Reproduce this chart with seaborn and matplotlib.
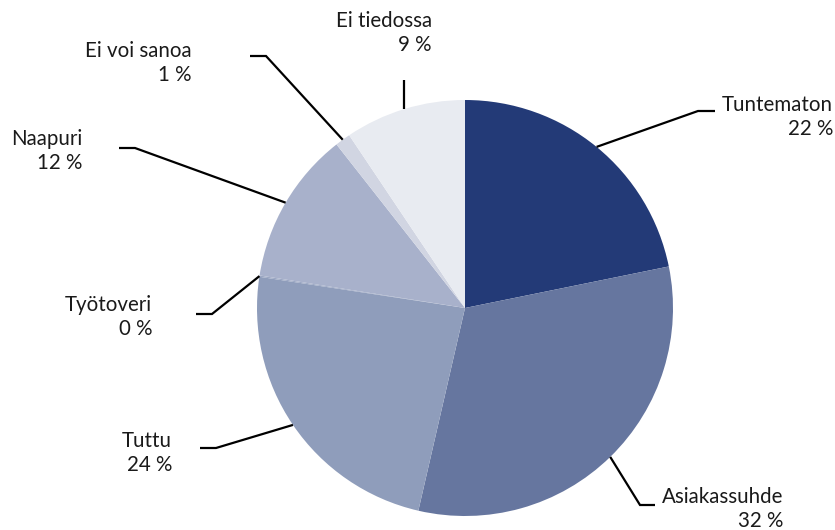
import numpy as np
import matplotlib
matplotlib.use("Agg")
import matplotlib.pyplot as plt
import seaborn as sns

sns.set_theme(style="white")
plt.rcParams['font.family'] = ['Lato', 'DejaVu Sans']

# --- data ---
categories = ["Tuntematon", "Asiakassuhde", "Tuttu", "Työtoveri", "Naapuri", "Ei voi sanoa", "Ei tiedossa"]
shares = [21.8, 31.8, 23.8, 0.1, 11.9, 1.2, 9.4]
pct_labels = ["22 %", "32 %", "24 %", "0 %", "12 %", "1 %", "9 %"]
colors = ["#233a77", "#66769f", "#8f9dbb", "#9ba7c3", "#a8b1cb", "#d1d5e2", "#e8ebf1"]

W, H = 835, 530
CX, CY, R = 465, 308, 208  # pie centre / radius in pixels (layout)

fig = plt.figure(figsize=(W / 100, H / 100), dpi=100)
ax = fig.add_axes([0, 0, 1, 1])

wedges, _ = ax.pie(shares, colors=colors, startangle=90, counterclock=False,
                   radius=1, center=(0, 0),
                   wedgeprops=dict(linewidth=0))

ax.set_xlim(-CX / R, (W - CX) / R)
ax.set_ylim(-(H - CY) / R, CY / R)
ax.set_aspect("equal", adjustable="box")
ax.axis("off")

def px(x, y):
    return ((x - CX) / R, (CY - y) / R)

# label layout in pixels: text anchor x, text block centre y, alignment, leader segment (x0, x1, y)
layout = {
    "Tuntematon":   dict(tx=722, ty=117, ha="left",  seg=(715, 698, 111)),
    "Asiakassuhde": dict(tx=662, ty=509, ha="left",  seg=(655, 640, 505)),
    "Tuttu":        dict(tx=172, ty=453, ha="right", seg=(200, 216, 448)),
    "Työtoveri":    dict(tx=152, ty=317, ha="right", seg=(196, 212, 314)),
    "Naapuri":      dict(tx=82,  ty=151, ha="right", seg=(119, 135, 148)),
    "Ei voi sanoa": dict(tx=192, ty=63,  ha="right", seg=(250, 266, 56)),
    "Ei tiedossa":  dict(tx=432, ty=33,  ha="right", seg=None),
}

for w, cat, pl in zip(wedges, categories, pct_labels):
    mid = np.deg2rad((w.theta1 + w.theta2) / 2)
    ex, ey = np.cos(mid), np.sin(mid)
    L = layout[cat]
    if L["seg"] is not None:
        x0, x1, sy = L["seg"]
        (ax0, ay0), (ax1, ay1) = px(x0, sy), px(x1, sy)
        ax.plot([ax0, ax1, ex], [ay0, ay1, ey], color="black", lw=1.6,
                solid_capstyle="butt", solid_joinstyle="miter")
    else:
        top = px(0, 80)[1]
        ax.plot([ex, ex], [top, ey], color="black", lw=1.6, solid_capstyle="butt")
    tx, ty = px(L["tx"], L["ty"])
    ax.text(tx, ty, f"{cat}\n{pl}", ha=L["ha"], va="center", multialignment="right",
            fontsize=14.8, color="#1a1a1a", linespacing=1.3)

fig.savefig("out.png", dpi=100, facecolor="white")
